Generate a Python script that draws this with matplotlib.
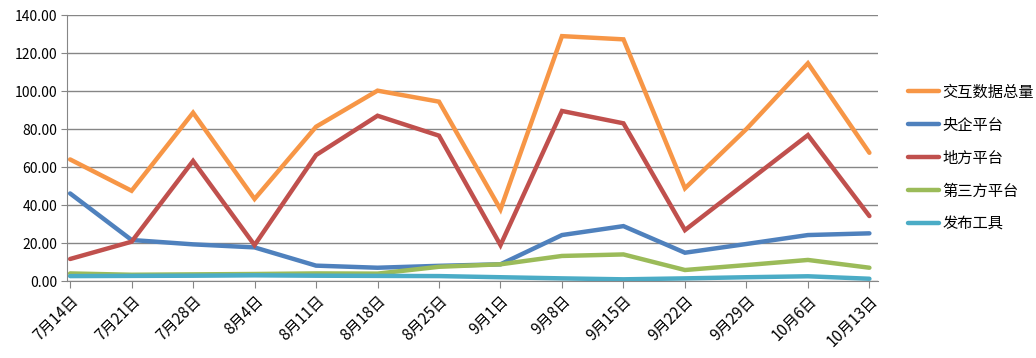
import matplotlib.pyplot as plt

plt.rcParams['font.family'] = ['Noto Sans CJK SC', 'DejaVu Sans']

dates = ["7月14日", "7月21日", "7月28日", "8月4日", "8月11日", "8月18日", "8月25日",
         "9月1日", "9月8日", "9月15日", "9月22日", "9月29日", "10月6日", "10月13日"]

total = [64.0, 47.5, 88.6, 43.2, 81.2, 100.2, 94.4, 37.7, 128.9, 127.2, 48.8, 80.0, 114.6, 67.5]
central = [46.1, 21.6, 19.3, 17.7, 8.1, 7.0, 8.0, 8.8, 24.2, 28.9, 14.9, 19.5, 24.2, 25.1]
local = [11.6, 20.7, 63.2, 18.9, 66.3, 87.0, 76.5, 18.9, 89.5, 83.0, 26.8, 51.8, 76.8, 34.2]
third = [4.0, 3.3, 3.5, 3.7, 4.0, 3.9, 7.5, 8.8, 13.2, 14.0, 5.8, 8.4, 11.1, 7.0]
tools = [2.6, 2.7, 2.8, 3.0, 2.8, 2.7, 2.6, 2.0, 1.4, 0.9, 1.4, 2.0, 2.5, 1.2]

series = [
    ("交互数据总量", total, "#F79646"),
    ("央企平台", central, "#4F81BD"),
    ("地方平台", local, "#C0504D"),
    ("第三方平台", third, "#9BBB59"),
    ("发布工具", tools, "#4BACC6"),
]

fig = plt.figure(figsize=(10.36, 3.58), dpi=100)
ax = fig.add_axes([0.0647, 0.215, 0.7828, 0.743])

x = list(range(len(dates)))
for name, vals, color in series:
    ax.plot(x, vals, color=color, lw=3.2, label=name, solid_capstyle="round",
            solid_joinstyle="miter")

ax.set_xlim(-0.05, 13.14)
ax.set_ylim(0, 140)
ax.set_yticks(range(0, 141, 20))
ax.set_yticklabels([f"{v:.2f}" for v in range(0, 141, 20)], fontsize=10)
ax.set_xticks(x)
ax.set_xticklabels(dates, rotation=45, ha="right", rotation_mode="anchor", fontsize=11)

ax.yaxis.grid(True, color="#868686", lw=1)
ax.set_axisbelow(True)
for s in ["top", "right"]:
    ax.spines[s].set_visible(False)
for s in ["left", "bottom"]:
    ax.spines[s].set_color("#868686")
ax.tick_params(axis="x", length=5, color="#868686", pad=3)
ax.tick_params(axis="y", length=4, color="#868686", pad=3)

ax.legend(loc="upper left", bbox_to_anchor=(1.03, 0.765), frameon=False,
          fontsize=11, handlelength=2.0, labelspacing=1.05, handletextpad=0.2,
          borderaxespad=0)

fig.savefig("out.png", dpi=100)
